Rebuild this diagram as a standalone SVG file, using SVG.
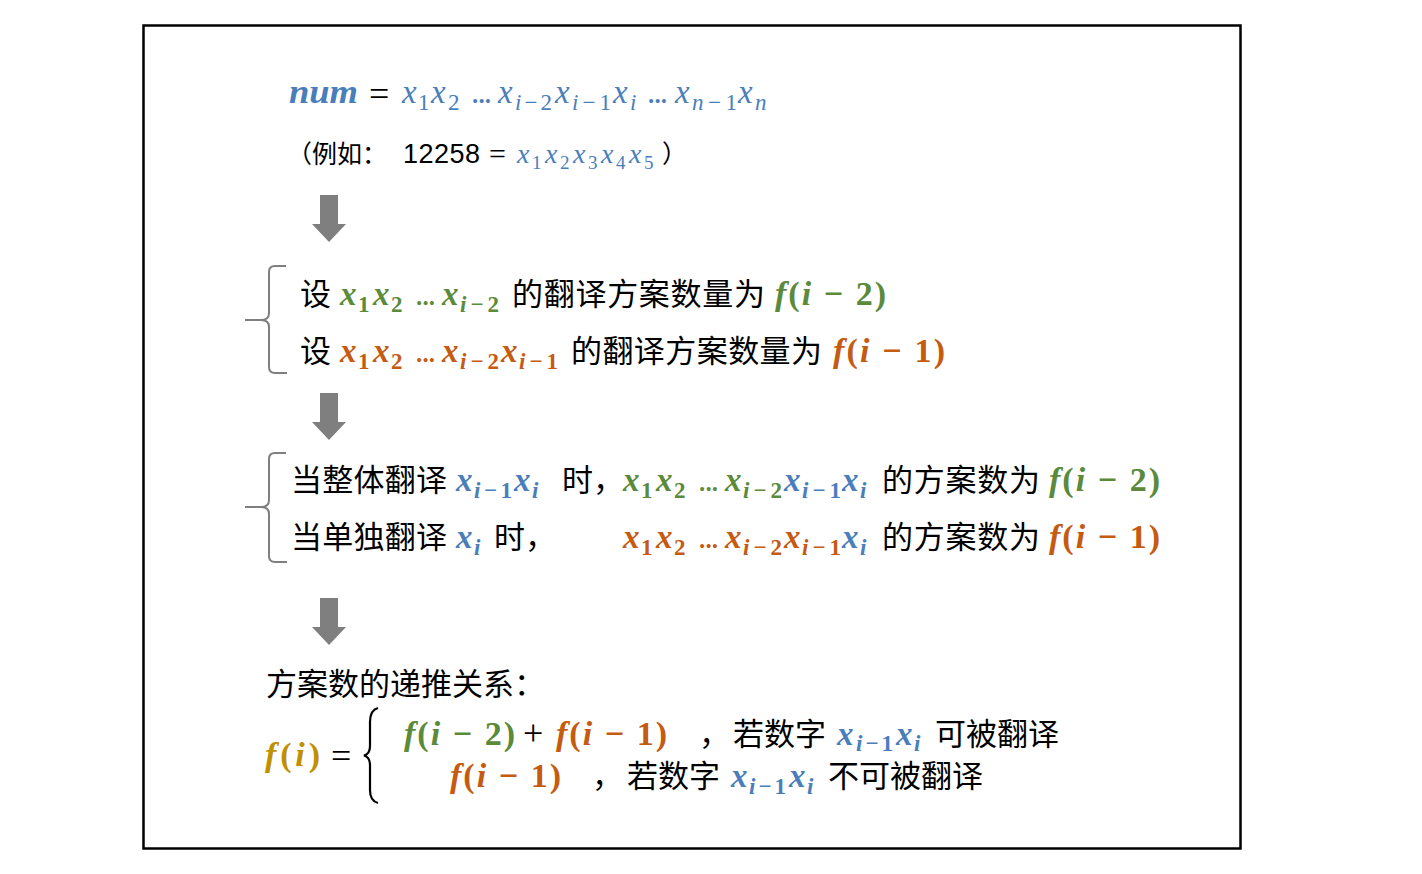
<svg xmlns="http://www.w3.org/2000/svg" width="1422" height="874" viewBox="0 0 1422 874">
<defs>
<style>
.cjk{font-family:"Noto Sans CJK SC","Noto Sans",sans-serif;font-size:31px;fill:#000}
.cjs{font-family:"Noto Sans CJK SC","Noto Sans",sans-serif;font-size:25px;fill:#000}
.m{font-family:"Liberation Serif","DejaVu Serif",serif;font-style:italic;font-size:33px}
.f{font-size:34px}
.eq{font-size:36px}
.sb{font-size:23px}
.s2{font-size:28px}
.s3{font-size:19px}
.up{font-style:normal}
.bd{font-weight:bold}
.blue{fill:#4a7ebb}
.green{fill:#5b8a3a}
.orange{fill:#c55a11}
.gold{fill:#bf9000}
.k{fill:#000}
.arrow{fill:#7f7f7f}
.brk{fill:none;stroke:#7f7f7f;stroke-width:2}
</style>
</defs>
<rect x="0" y="0" width="1422" height="874" fill="#fff"/>
<rect x="143.5" y="25.5" width="1097" height="823" fill="none" stroke="#000" stroke-width="2.5"/>

<g id="connectors">
<polygon class="arrow" points="320,195 338,195 338,224 346,224 329,242 312,224 320,224"/>
<polygon class="arrow" points="320,393 338,393 338,422 346,422 329,440 312,422 320,422"/>
<polygon class="arrow" points="320,598 338,598 338,627 346,627 329,645 312,627 320,627"/>
</g>

<g id="node-num">
<text class="m bd blue" x="289" y="103" style="font-size:33px" textLength="69" lengthAdjust="spacingAndGlyphs">num</text>
<text class="m up k eq" x="369" y="106">=</text>
<text class="m blue" x="402" y="103">x</text><text class="m sb up blue" x="418" y="110">1</text>
<text class="m blue" x="431" y="103">x</text><text class="m sb up blue" x="448" y="110">2</text>
<text class="m up blue" x="471" y="103" textLength="21">...</text>
<text class="m blue" x="498" y="103">x</text><text class="m sb blue" x="515" y="110" textLength="37">i<tspan class="up">−2</tspan></text>
<text class="m blue" x="555" y="103">x</text><text class="m sb blue" x="572" y="110" textLength="39">i<tspan class="up">−1</tspan></text>
<text class="m blue" x="613" y="103">x</text><text class="m sb blue" x="630" y="110">i</text>
<text class="m up blue" x="647" y="103" textLength="21">...</text>
<text class="m blue" x="675" y="103">x</text><text class="m sb blue" x="692" y="110" textLength="45">n<tspan class="up">−1</tspan></text>
<text class="m blue" x="738" y="103">x</text><text class="m sb blue" x="755" y="110">n</text>
</g>

<g id="node-example">
<text class="cjs" x="287" y="163">（例如：</text>
<text x="403" y="163" style="font-family:'Liberation Sans',Arial,sans-serif;font-size:27px" fill="#000" textLength="77">12258</text>
<text class="m up k" x="489" y="164" style="font-size:30px">=</text>
<text class="m s2 blue" x="517" y="163">x</text><text class="m s3 up blue" x="532" y="169">1</text>
<text class="m s2 blue" x="545" y="163">x</text><text class="m s3 up blue" x="560" y="169">2</text>
<text class="m s2 blue" x="573" y="163">x</text><text class="m s3 up blue" x="588" y="169">3</text>
<text class="m s2 blue" x="601" y="163">x</text><text class="m s3 up blue" x="616" y="169">4</text>
<text class="m s2 blue" x="629" y="163">x</text><text class="m s3 up blue" x="644" y="169">5</text>
<text class="cjs" x="662" y="163">）</text>
</g>

<g id="node-define">
<path class="brk" d="M286,266 H275 Q269,266 269,272 V313 Q269,320 261,320 H245 M261,320 Q269,320 269,327 V367 Q269,373 275,373 H287"/>
<text class="cjk" x="300" y="305">设</text>
<text class="m bd green" x="340" y="305">x</text><text class="m sb bd up green" x="358" y="312">1</text>
<text class="m bd green" x="373" y="305">x</text><text class="m sb bd up green" x="391" y="312">2</text>
<text class="m up green" x="415" y="305" textLength="21">...</text>
<text class="m bd green" x="442" y="305">x</text><text class="m sb bd green" x="460" y="312" textLength="39">i<tspan class="up">−2</tspan></text>
<text class="cjk" x="512" y="305" textLength="253">的翻译方案数量为</text>
<text class="m f bd green" x="775" y="305" textLength="111">f<tspan class="up">(</tspan>i<tspan class="up"> − 2)</tspan></text>

<text class="cjk" x="300" y="362">设</text>
<text class="m bd orange" x="340" y="362">x</text><text class="m sb bd up orange" x="358" y="369">1</text>
<text class="m bd orange" x="373" y="362">x</text><text class="m sb bd up orange" x="391" y="369">2</text>
<text class="m up orange" x="415" y="362" textLength="21">...</text>
<text class="m bd orange" x="442" y="362">x</text><text class="m sb bd orange" x="460" y="369" textLength="39">i<tspan class="up">−2</tspan></text>
<text class="m bd orange" x="501" y="362">x</text><text class="m sb bd orange" x="519" y="369" textLength="39">i<tspan class="up">−1</tspan></text>
<text class="cjk" x="571" y="362" textLength="251">的翻译方案数量为</text>
<text class="m f bd orange" x="833" y="362" textLength="112">f<tspan class="up">(</tspan>i<tspan class="up"> − 1)</tspan></text>
</g>

<g id="node-cases">
<path class="brk" d="M286,453 H275 Q269,453 269,459 V500 Q269,507 261,507 H245 M261,507 Q269,507 269,514 V556 Q269,562 275,562 H287"/>
<text class="cjk" x="291" y="491" textLength="156">当整体翻译</text>
<text class="m bd blue" x="456" y="491">x</text><text class="m sb bd blue" x="474" y="498" textLength="38">i<tspan class="up">−1</tspan></text>
<text class="m bd blue" x="514" y="491">x</text><text class="m sb bd blue" x="532" y="498">i</text>
<text class="cjk" x="562" y="491">时，</text>
<text class="m bd green" x="623" y="491">x</text><text class="m sb bd up green" x="641" y="498">1</text>
<text class="m bd green" x="656" y="491">x</text><text class="m sb bd up green" x="674" y="498">2</text>
<text class="m up green" x="698" y="491" textLength="21">...</text>
<text class="m bd green" x="725" y="491">x</text><text class="m sb bd green" x="743" y="498" textLength="39">i<tspan class="up">−2</tspan></text>
<text class="m bd blue" x="784" y="491">x</text><text class="m sb bd blue" x="802" y="498" textLength="39">i<tspan class="up">−1</tspan></text>
<text class="m bd blue" x="842" y="491">x</text><text class="m sb bd blue" x="860" y="498">i</text>
<text class="cjk" x="882" y="491" textLength="158">的方案数为</text>
<text class="m f bd green" x="1049" y="491" textLength="111">f<tspan class="up">(</tspan>i<tspan class="up"> − 2)</tspan></text>

<text class="cjk" x="291" y="548" textLength="156">当单独翻译</text>
<text class="m bd blue" x="456" y="548">x</text><text class="m sb bd blue" x="474" y="555">i</text>
<text class="cjk" x="494" y="548">时，</text>
<text class="m bd orange" x="623" y="548">x</text><text class="m sb bd up orange" x="641" y="555">1</text>
<text class="m bd orange" x="656" y="548">x</text><text class="m sb bd up orange" x="674" y="555">2</text>
<text class="m up orange" x="698" y="548" textLength="21">...</text>
<text class="m bd orange" x="725" y="548">x</text><text class="m sb bd orange" x="743" y="555" textLength="39">i<tspan class="up">−2</tspan></text>
<text class="m bd orange" x="784" y="548">x</text><text class="m sb bd orange" x="802" y="555" textLength="39">i<tspan class="up">−1</tspan></text>
<text class="m bd blue" x="842" y="548">x</text><text class="m sb bd blue" x="860" y="555">i</text>
<text class="cjk" x="882" y="548" textLength="158">的方案数为</text>
<text class="m f bd orange" x="1049" y="548" textLength="111">f<tspan class="up">(</tspan>i<tspan class="up"> − 1)</tspan></text>
</g>

<g id="node-recurrence">
<text class="cjk" x="266" y="695">方案数的递推关系：</text>
<text class="m f bd gold" x="265" y="766" textLength="55">f<tspan class="up">(</tspan>i<tspan class="up">)</tspan></text>
<text class="m up k eq" x="331" y="768">=</text>
<path d="M378,708 Q370,710 370,722 V746 Q370,754 364,755.5 Q370,757 370,765 V790 Q370,801 378,803" fill="none" stroke="#000" stroke-width="2.2"/>
<text class="m f bd green" x="404" y="745" textLength="111">f<tspan class="up">(</tspan>i<tspan class="up"> − 2)</tspan></text>
<text class="m up k eq" x="523" y="745">+</text>
<text class="m f bd orange" x="556" y="745" textLength="111">f<tspan class="up">(</tspan>i<tspan class="up"> − 1)</tspan></text>
<text class="cjk" x="699" y="745">，</text>
<text class="cjk" x="733" y="745">若数字</text>
<text class="m bd blue" x="837" y="745">x</text><text class="m sb bd blue" x="856" y="751" textLength="37">i<tspan class="up">−1</tspan></text>
<text class="m bd blue" x="896" y="745">x</text><text class="m sb bd blue" x="914" y="751">i</text>
<text class="cjk" x="935" y="745">可被翻译</text>

<text class="m f bd orange" x="450" y="787" textLength="111">f<tspan class="up">(</tspan>i<tspan class="up"> − 1)</tspan></text>
<text class="cjk" x="592" y="787">，</text>
<text class="cjk" x="627" y="787">若数字</text>
<text class="m bd blue" x="731" y="787">x</text><text class="m sb bd blue" x="749" y="794" textLength="37">i<tspan class="up">−1</tspan></text>
<text class="m bd blue" x="789" y="787">x</text><text class="m sb bd blue" x="807" y="794">i</text>
<text class="cjk" x="828" y="787">不可被翻译</text>
</g>
</svg>
